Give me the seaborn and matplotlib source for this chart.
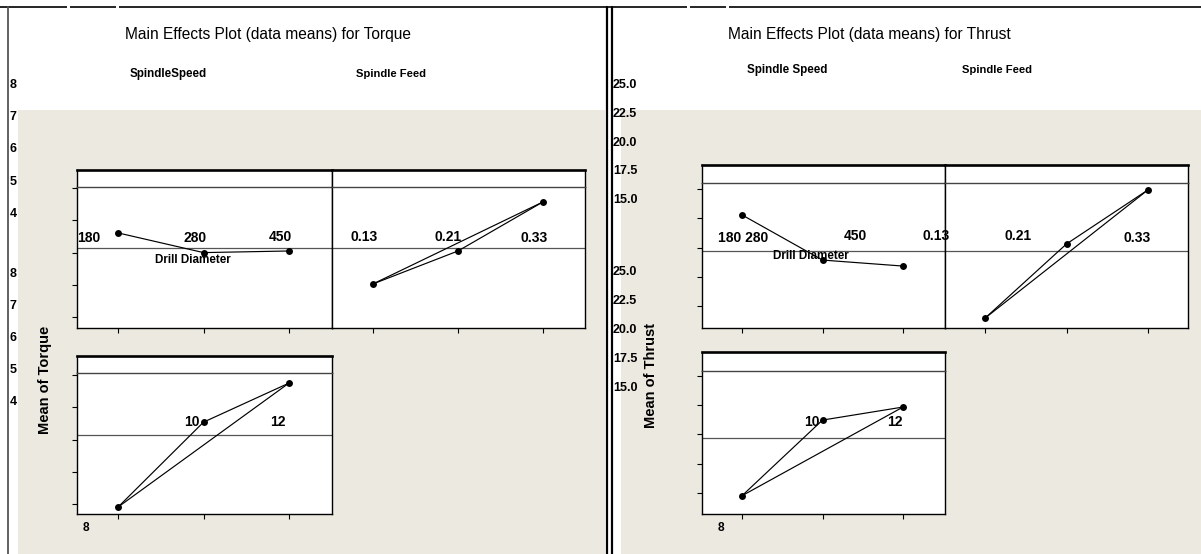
import numpy as np
import pandas as pd
import matplotlib
matplotlib.use("Agg")
import matplotlib.pyplot as plt
from matplotlib.patches import Rectangle
import seaborn as sns

# ---- factor levels ----
speed_levels = ["180", "280", "450"]
feed_levels = ["0.13", "0.21", "0.33"]
diameter_levels = ["8", "10", "12"]

# ---- means of Torque per level ----
torque_speed = [6.61, 6.00, 6.05]
torque_feed = [5.03, 6.05, 7.57]
torque_diameter = [3.91, 6.54, 7.75]
torque_mean = 6.14

# ---- means of Thrust per level ----
thrust_speed = [22.78, 18.94, 18.43]
thrust_feed = [14.00, 20.31, 24.91]
thrust_diameter = [14.73, 21.23, 22.35]
thrust_mean = 19.69

# ---- y axis ticks ----
torque_ticks = [8, 7, 6, 5, 4]
thrust_ticks = [25.0, 22.5, 20.0, 17.5, 15.0]
torque_tick_labels = ["8", "7", "6", "5", "4"]
thrust_tick_labels = ["25.0", "22.5", "20.0", "17.5", "15.0"]

sns.set_theme(style="white")
plt.rcParams["font.family"] = ["Liberation Sans", "DejaVu Sans"]

W, H = 1201, 554
BEIGE = "#ECE9E0"
fig = plt.figure(figsize=(W / 100, H / 100), dpi=100, facecolor="white")


def fx(x):
    return x / W


def fy(y):
    return 1 - y / H


def px_axes(x0, y0, x1, y1):
    return fig.add_axes([fx(x0), fy(y1), (x1 - x0) / W, (y1 - y0) / H])


def ptext(x, y, s, size=8.5, weight="bold", **kw):
    kw.setdefault("ha", "center")
    kw.setdefault("va", "center")
    fig.text(fx(x), fy(y), s, fontsize=size, fontweight=weight, color="black", **kw)


# ---- window frame and background ----
bg = fig.add_axes([0, 0, 1, 1])
bg.set_xlim(0, W)
bg.set_ylim(H, 0)
bg.axis("off")
bg.add_patch(Rectangle((18, 110), 587, H - 110, facecolor=BEIGE, edgecolor="none"))
bg.add_patch(Rectangle((621, 110), W - 621, H - 110, facecolor=BEIGE, edgecolor="none"))
for xa, xb in [(0, 67), (70, 116), (119, 687), (690, 726), (729, W)]:
    bg.plot([xa, xb], [7, 7], color="black", lw=1.2, solid_capstyle="butt")
bg.plot([8, 8], [7, H], color="#555555", lw=1.3)
bg.plot([606.5, 606.5], [7, H], color="black", lw=1.6)
bg.plot([612, 612], [7, H], color="black", lw=1.6)


def panel(box, strip_top, xt_px, yt_px, yt_vals, values, mean, close, left_ticks):
    x0, y0, x1, y1 = box
    # strip header
    st = px_axes(x0, strip_top, x1, y0)
    st.set_facecolor("white")
    st.set_xticks([])
    st.set_yticks([])
    for side, sp in st.spines.items():
        sp.set_color("black")
        sp.set_linewidth(1.9 if side == "top" else 1.0)
    st.spines["bottom"].set_visible(False)

    ax = px_axes(x0, y0, x1, y1)
    ax.set_facecolor("white")
    step = (xt_px[2] - xt_px[0]) / 2
    ax.set_xlim((x0 - xt_px[0]) / step, (x1 - xt_px[0]) / step)
    slope, icpt = np.polyfit(yt_px, yt_vals, 1)
    ax.set_ylim(slope * y1 + icpt, slope * y0 + icpt)

    df = pd.DataFrame({"level": [0, 1, 2], "mean": values})
    ax.axhline(mean, color="#555555", lw=0.9, zorder=1)
    sns.lineplot(data=df, x="level", y="mean", ax=ax, color="black", lw=0.85,
                 marker="o", markersize=5, markeredgewidth=0, estimator=None,
                 sort=False, zorder=3)
    if close:
        ends = df.iloc[[0, 2]]
        sns.lineplot(data=ends, x="level", y="mean", ax=ax, color="black",
                     lw=0.85, estimator=None, sort=False, zorder=3)
    ax.set_xlabel("")
    ax.set_ylabel("")
    ax.set_xticks([0, 1, 2])
    ax.set_yticks(yt_vals)
    ax.tick_params(axis="both", direction="out", length=3.6, width=0.8,
                   color="black", labelleft=False, labelbottom=False,
                   left=left_ticks, bottom=True)
    for side, sp in ax.spines.items():
        sp.set_color("black")
        sp.set_linewidth(1.0)
    ax.spines["top"].set_color("#444444")
    return ax


# ---- Torque ----
panel((77, 187, 332, 328), 170, [118, 203, 289], [188, 220, 253, 285, 317],
      torque_ticks, torque_speed, torque_mean, False, True)
panel((332, 187, 585, 328), 170, [373, 458, 543], [188, 220, 253, 285, 317],
      torque_ticks, torque_feed, torque_mean, True, False)
panel((77, 373, 332, 514), 356, [118, 203, 289], [375, 407, 440, 472, 504],
      torque_ticks, torque_diameter, torque_mean, True, True)

# ---- Thrust ----
panel((702, 183, 945, 328), 165, [742, 823, 903], [189, 218, 247, 278, 306],
      thrust_ticks, thrust_speed, thrust_mean, False, True)
panel((945, 183, 1188, 328), 165, [985, 1066, 1148], [189, 218, 247, 278, 306],
      thrust_ticks, thrust_feed, thrust_mean, True, False)
panel((702, 371, 945, 514), 352, [742, 823, 903], [376, 406, 434, 463, 493],
      thrust_ticks, thrust_diameter, thrust_mean, True, True)

# ---- titles and factor names ----
ptext(268, 35, "Main Effects Plot (data means) for Torque", size=11.2, weight="medium")
ptext(869, 34, "Main Effects Plot (data means) for Thrust", size=11.2, weight="medium")
ptext(168, 74, "SpindleSpeed", size=8.4)
ptext(391, 74, "Spindle Feed", size=8.1)
ptext(787, 70, "Spindle Speed", size=8.4)
ptext(997, 70, "Spindle Feed", size=8.1)

# ---- level labels ----
LV = 10
ptext(89, 238, speed_levels[0], size=LV)
ptext(195, 238, speed_levels[1], size=LV)
ptext(280, 237, speed_levels[2], size=LV)
ptext(364, 237, feed_levels[0], size=LV)
ptext(448, 237, feed_levels[1], size=LV)
ptext(534, 238, feed_levels[2], size=LV)
ptext(193, 260, "Drill Diameter", size=8.4)
ptext(192, 422, diameter_levels[1], size=LV)
ptext(278, 422, diameter_levels[2], size=LV)
ptext(86, 528, diameter_levels[0], size=8.6)

ptext(743, 238, speed_levels[0] + " " + speed_levels[1], size=LV)
ptext(855, 236, speed_levels[2], size=LV)
ptext(936, 236, feed_levels[0], size=LV)
ptext(1018, 236, feed_levels[1], size=LV)
ptext(1137, 238, feed_levels[2], size=LV)
ptext(811, 256, "Drill Diameter", size=8.4)
ptext(812, 422, diameter_levels[1], size=LV)
ptext(895, 422, diameter_levels[2], size=LV)
ptext(721, 528, diameter_levels[0], size=8.6)

# ---- axis titles ----
ptext(45, 380, "Mean of Torque", size=10.5, rotation=90)
ptext(651, 376, "Mean of Thrust", size=10.5, rotation=90)

# ---- scale values along the window edge ----
for start, step in [(85, 32.2), (274, 32.0)]:
    for i, lab in enumerate(torque_tick_labels):
        ptext(10, start + i * step, lab, size=9, ha="left")
for start, step in [(85, 28.8), (272, 29.0)]:
    for i, lab in enumerate(thrust_tick_labels):
        ptext(613, start + i * step, lab, size=9, ha="left")

fig.savefig("out.png", dpi=100, facecolor="white")
